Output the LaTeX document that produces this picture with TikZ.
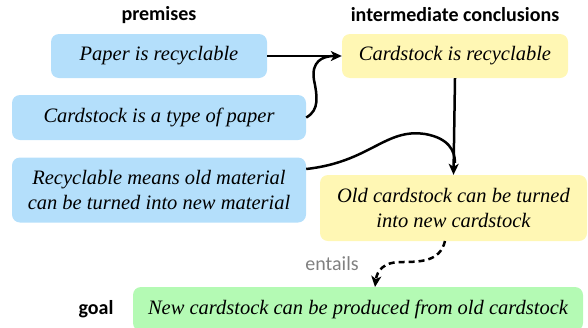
\documentclass[tikz,border=0pt]{standalone}
\usepackage{fontspec}
\setmainfont{Liberation Serif}
\newfontfamily\headfont{Carlito}
\usepackage{tikz}
\usetikzlibrary{arrows.meta}

\definecolor{premblue}{RGB}{180,223,251}
\definecolor{midyellow}{RGB}{255,247,180}
\definecolor{goalgreen}{RGB}{180,250,180}

\begin{document}
\begin{tikzpicture}[x=1pt,y=-1pt,>={Stealth[length=11pt,width=10pt,inset=3pt]},
		box/.style={rectangle,rounded corners=8pt,inner sep=0pt,align=center,
			font=\fontsize{20.5}{25}\selectfont\itshape},
		premise/.style={box,fill=premblue},
		interim/.style={box,fill=midyellow},
		goalbox/.style={box,fill=goalgreen},
		head/.style={font=\headfont\bfseries\fontsize{20}{23}\selectfont},
		link/.style={line width=2.5pt}]
		\useasboundingbox (0,0) rectangle (588,327);
		% headings
		\node[head] (hprem) at (159,15) {premises};
		\node[head] (hconc) at (455,15) {intermediate conclusions};
		\node[head] (hgoal) at (96,309) {goal};
		% premises
		\node[premise,minimum width=216pt,minimum height=44pt] (paper) at (159,56) {Paper is recyclable};
		\node[premise,minimum width=294pt,minimum height=45pt] (type) at (159,117.5) {Cardstock is a type of paper};
		\node[premise,minimum width=294pt,minimum height=65pt] (means) at (159,190) {Recyclable means old material\\can be turned into new material};
		% conclusions
		\node[interim,minimum width=226pt,minimum height=44pt] (recyc) at (455,56) {Cardstock is recyclable};
		\node[interim,minimum width=267pt,minimum height=66pt] (turned) at (453.5,208) {Old cardstock can be turned\\into new cardstock};
		\node[goalbox,minimum width=450pt,minimum height=44pt] (goal) at (358,309) {New cardstock can be produced from old cardstock};
		% joins
		\coordinate (j1) at (334,56);
		\coordinate (j2) at (455,163);
		\draw[link,->] (paper.east)--(recyc.west);
		\draw[link] (type.east) .. controls (320,110) and (317,95) .. (314,80) .. controls (311,62) and (322,56) .. (j1);
		\draw[link,->] (recyc.south)--(turned.north);
		\draw[link] (means.east|-0,169) .. controls (370,162) and (385,128) .. (425,134) .. controls (448,138) and (455,150) .. (j2);
		\draw[link,dash pattern=on 6pt off 4pt,->] (445,241) .. controls (440,262) and (420,262) .. (400,262) .. controls (385,262) and (377,270) .. (375,287);
		\node[text=gray,font=\headfont\fontsize{20}{23}\selectfont] (ent) at (332,264) {entails};
	\end{tikzpicture}
\end{document}
